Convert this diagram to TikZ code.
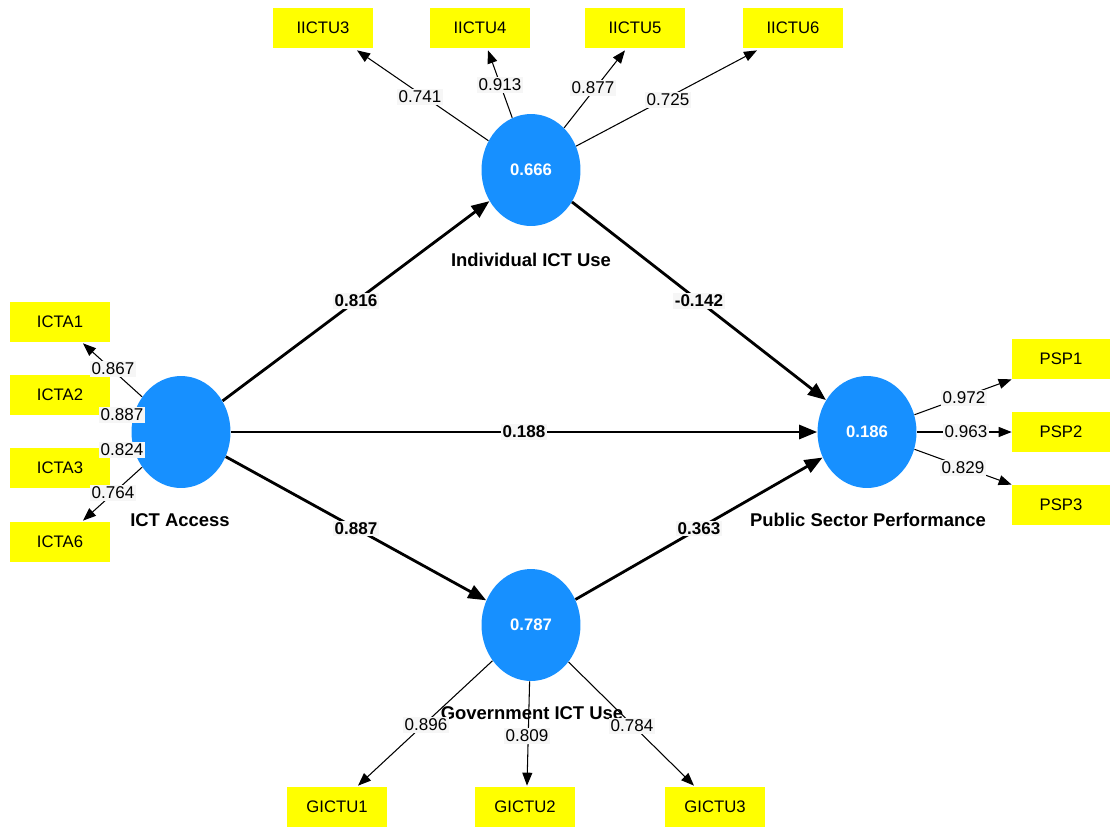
\documentclass[tikz,border=0pt]{standalone}
\usepackage{fontspec}
\setmainfont{Liberation Sans}
\usetikzlibrary{arrows.meta,shapes.geometric,calc}

\definecolor{lvblue}{HTML}{1790FF}
\definecolor{mvyellow}{HTML}{FFFF00}
\definecolor{lblbg}{HTML}{F6F6F6}

\tikzset{
  latent/.style={ellipse,fill=lvblue,minimum width=1.98cm,minimum height=2.24cm,inner sep=0pt,text=white,font=\fontsize{9.5}{11}\selectfont\bfseries},
  manifest/.style={rectangle,fill=mvyellow,minimum width=2cm,minimum height=0.8cm,inner sep=0pt,font=\fontsize{9.5}{11}\selectfont},
  loading/.style={line width=0.6pt,-{Triangle[length=0.26cm,width=0.2cm]}},
  structpath/.style={line width=1.6pt,-{Triangle[length=0.36cm,width=0.28cm]}},
  wlbl/.style={fill=lblbg,inner sep=1pt,font=\fontsize{9.7}{11}\selectfont},
  blbl/.style={fill=lblbg,inner sep=1pt,font=\fontsize{9.7}{11}\selectfont\bfseries},
  cname/.style={font=\fontsize{10.5}{12}\selectfont\bfseries}
}

\begin{document}
\begin{tikzpicture}[x=0.02cm,y=-0.02cm]
\useasboundingbox (0,0) rectangle (1110,826);

% constructs
\node[latent] (ICT) at (181,432) {};
\node[latent] (IU) at (531,170) {0.666};
\node[latent] (GU) at (531,625) {0.787};
\node[latent] (PSP) at (867,432) {0.186};

% indicators
\node[manifest] (ICTA1) at (60,322) {ICTA1};
\node[manifest] (ICTA2) at (60,395) {ICTA2};
\node[manifest] (ICTA3) at (60,468) {ICTA3};
\node[manifest] (ICTA6) at (60,542) {ICTA6};

\node[manifest] (IICTU3) at (323,28) {IICTU3};
\node[manifest] (IICTU4) at (480,28) {IICTU4};
\node[manifest] (IICTU5) at (635,28) {IICTU5};
\node[manifest] (IICTU6) at (793,28) {IICTU6};

\node[manifest] (GICTU1) at (337,807) {GICTU1};
\node[manifest] (GICTU2) at (525,807) {GICTU2};
\node[manifest] (GICTU3) at (715,807) {GICTU3};

\node[manifest,minimum width=1.96cm] (PSP1) at (1061,359) {PSP1};
\node[manifest,minimum width=1.96cm] (PSP2) at (1061,432) {PSP2};
\node[manifest,minimum width=1.96cm] (PSP3) at (1061,505) {PSP3};

% outer model
\draw[loading] (ICT) -- ($(ICTA1.south)+(23,1)$);
\draw[loading] (ICT) -- ($(ICTA2.east)+(2,14)$);
\draw[loading] (ICT) -- ($(ICTA3.east)+(2,-14)$);
\draw[loading] (ICT) -- ($(ICTA6.north)+(23,-1)$);

\draw[loading] (IU) -- ($(IICTU3.south)+(34,2)$);
\draw[loading] (IU) -- ($(IICTU4.south)+(8,2)$);
\draw[loading] (IU) -- ($(IICTU5.south)+(-10,2)$);
\draw[loading] (IU) -- ($(IICTU6.south)+(-36,2)$);

\draw[loading] (GU) -- ($(GICTU1.north)+(21,-1)$);
\draw[loading] (GU) -- ($(GICTU2.north)+(2,-1)$);
\draw[loading] (GU) -- ($(GICTU3.north)+(-21,-1)$);

\draw[loading] (PSP) -- (PSP1.south west);
\draw[loading] (PSP) -- (PSP2.west);
\draw[loading] (PSP) -- (PSP3.north west);

% inner model
\draw[structpath] (ICT) -- node[blbl] (p1) {0.816} (IU);
\draw[structpath] (ICT) -- node[blbl] (p2) {0.188} (PSP);
\draw[structpath] (ICT) -- node[blbl] (p3) {0.887} (GU);
\draw[structpath] (IU) -- node[blbl] (p4) {-0.142} (PSP);
\draw[structpath] (GU) -- node[blbl] (p5) {0.363} (PSP);

% construct names
\node[cname] (nICT) at (180,520) {ICT Access};
\node[cname] (nIU) at (531,260) {Individual ICT Use};
\node[cname] (nGU) at (532,713) {Government ICT Use};
\node[cname] (nPSP) at (868,520) {Public Sector Performance};

% loadings
\node[wlbl] (w1) at (113,369) {0.867};
\node[wlbl,minimum width=0.94cm] (w2) at (122,415) {0.887};
\node[wlbl,minimum width=0.94cm] (w3) at (122,450) {0.824};
\node[wlbl] (w4) at (113,493) {0.764};

\node[wlbl] (w5) at (420,97) {0.741};
\node[wlbl] (w6) at (500,85) {0.913};
\node[wlbl] (w7) at (593,88) {0.877};
\node[wlbl] (w8) at (668,100) {0.725};

\node[wlbl] (w9) at (426,725) {0.896};
\node[wlbl] (w10) at (527,736) {0.809};
\node[wlbl] (w11) at (632,726) {0.784};

\node[wlbl] (w12) at (964,398) {0.972};
\node[wlbl] (w13) at (966,432) {0.963};
\node[wlbl] (w14) at (963,468) {0.829};
\end{tikzpicture}
\end{document}
